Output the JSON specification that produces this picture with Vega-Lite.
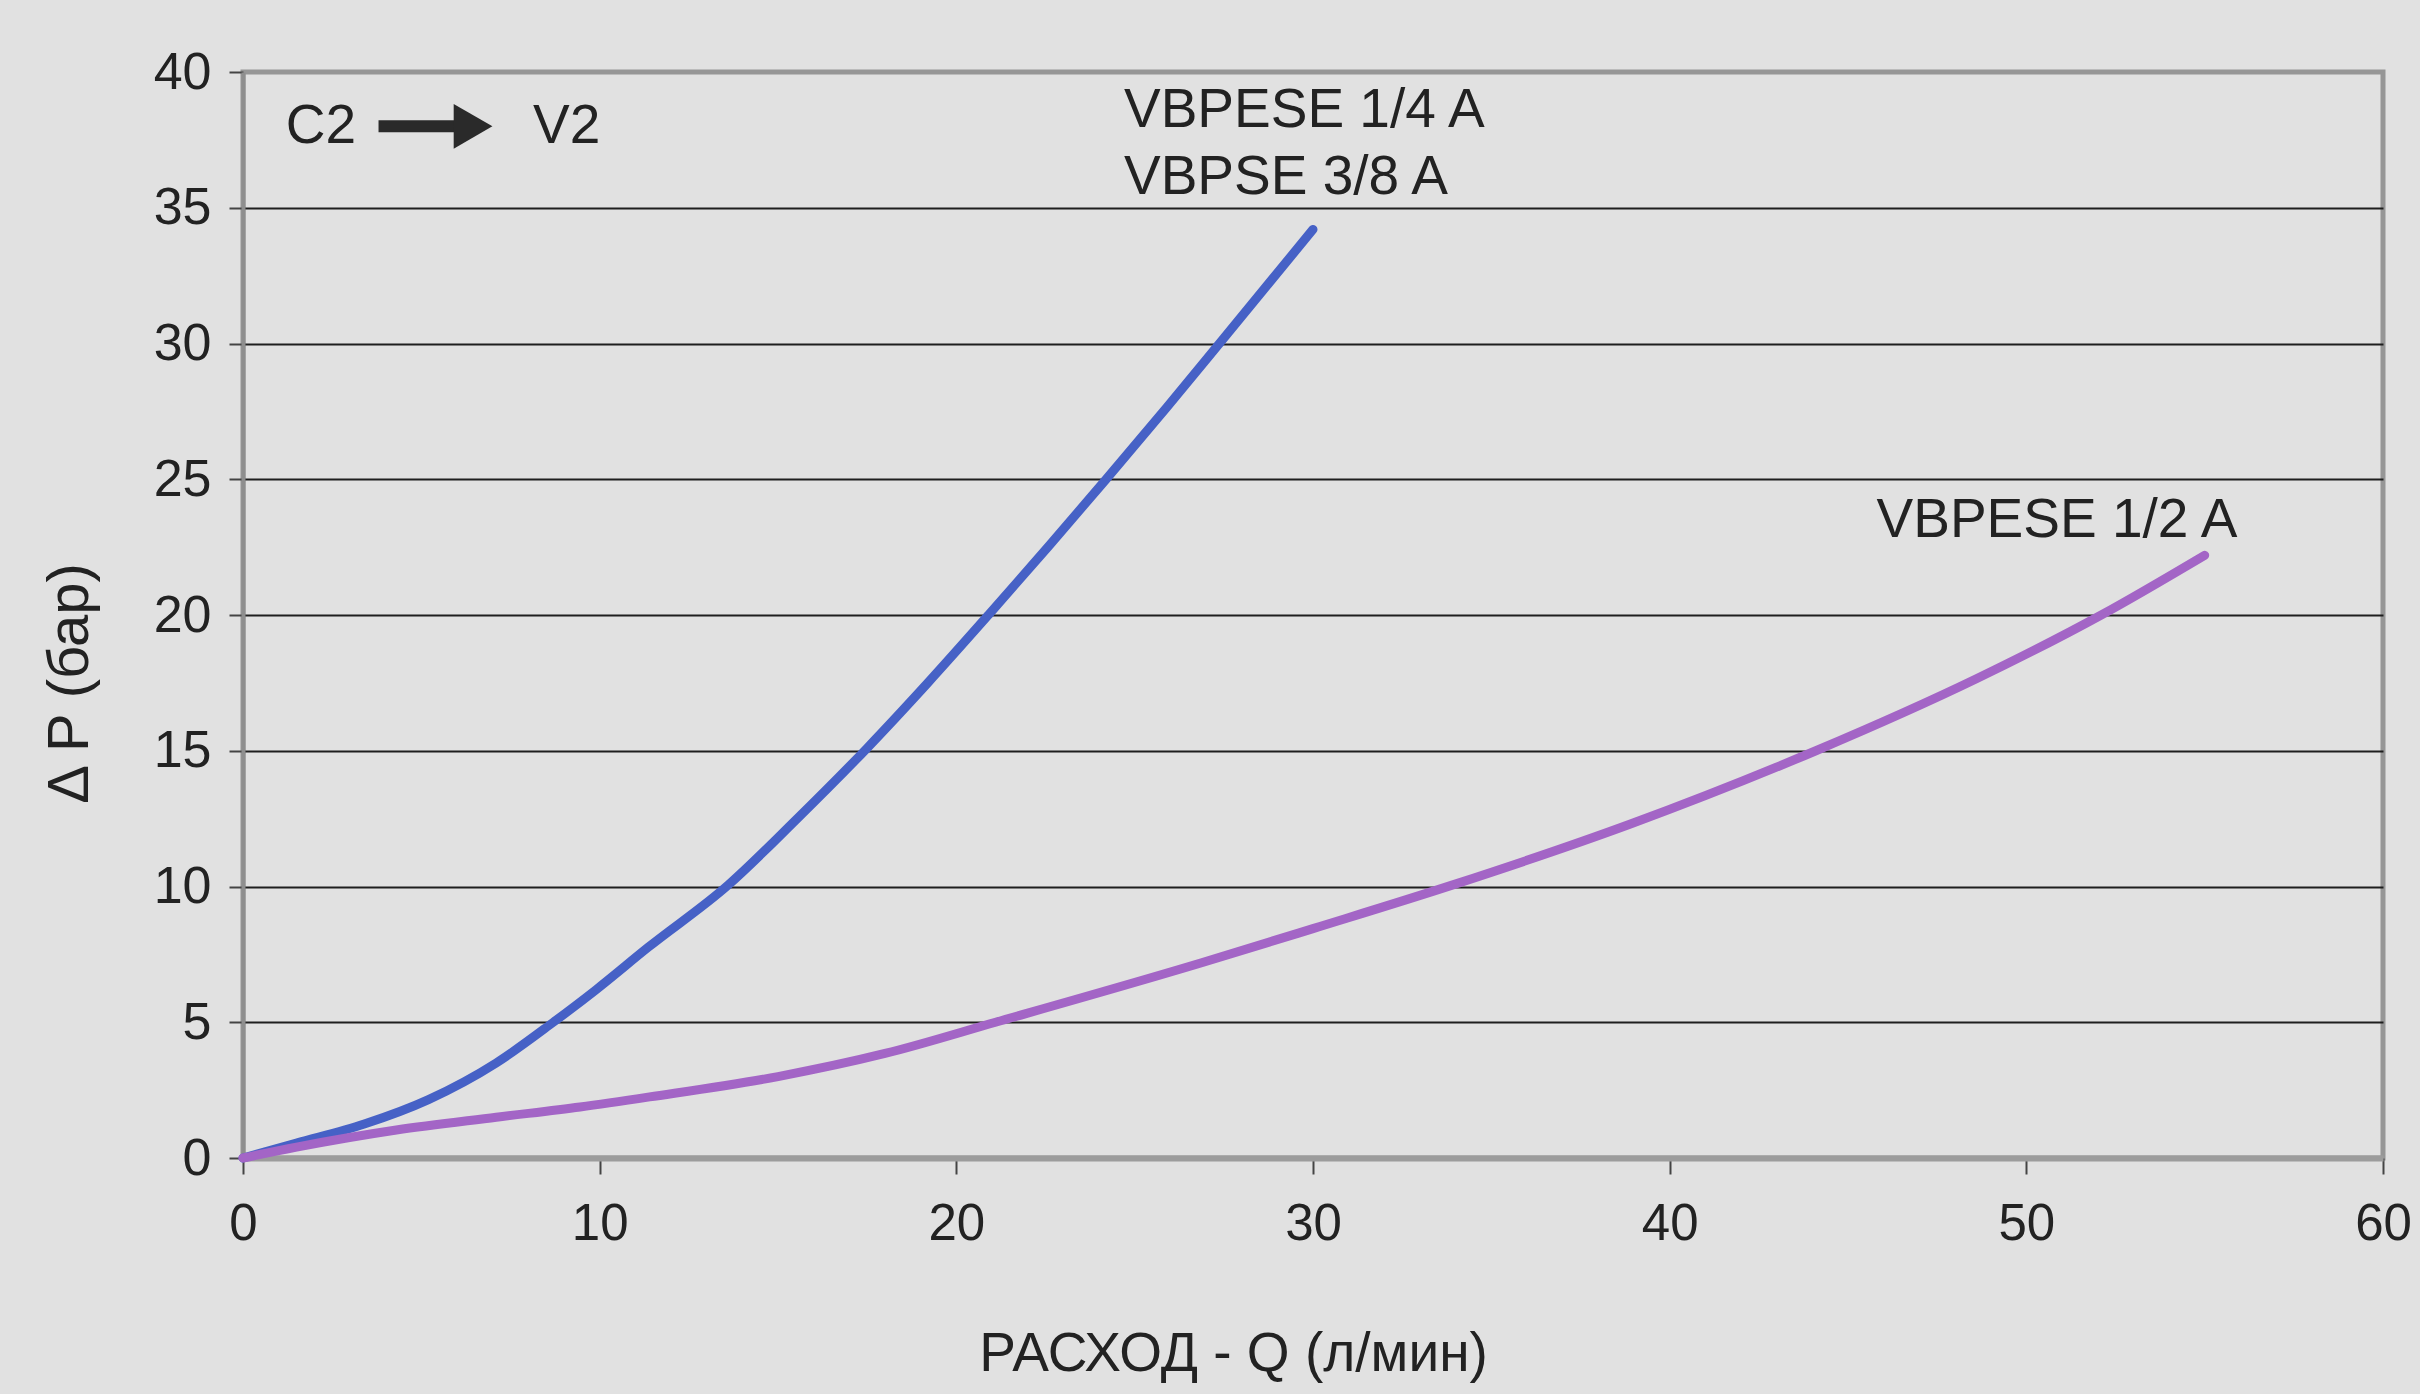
{
  "$schema": "https://vega.github.io/schema/vega-lite/v6.json",
  "width": 2140,
  "height": 1086,
  "autosize": {"type": "none"},
  "padding": {"left": 243, "top": 72, "right": 37, "bottom": 236},
  "background": "#e1e1e1",
  "config": {
    "font": "Liberation Sans",
    "view": {"stroke": "#969696", "strokeWidth": 5, "fill": "#e1e1e1"}
  },
  "datasets": {
    "curves": [
      {"series": "VBPESE 1/4 A, VBPSE 3/8 A", "q": 0, "dp": 0},
      {"series": "VBPESE 1/4 A, VBPSE 3/8 A", "q": 1.5, "dp": 0.55},
      {"series": "VBPESE 1/4 A, VBPSE 3/8 A", "q": 3.4, "dp": 1.25},
      {"series": "VBPESE 1/4 A, VBPSE 3/8 A", "q": 5.2, "dp": 2.15},
      {"series": "VBPESE 1/4 A, VBPSE 3/8 A", "q": 7.1, "dp": 3.5},
      {"series": "VBPESE 1/4 A, VBPSE 3/8 A", "q": 8.7, "dp": 5.0},
      {"series": "VBPESE 1/4 A, VBPSE 3/8 A", "q": 9.9, "dp": 6.2},
      {"series": "VBPESE 1/4 A, VBPSE 3/8 A", "q": 11.35, "dp": 7.75},
      {"series": "VBPESE 1/4 A, VBPSE 3/8 A", "q": 13.6, "dp": 10.05},
      {"series": "VBPESE 1/4 A, VBPSE 3/8 A", "q": 15.5, "dp": 12.45},
      {"series": "VBPESE 1/4 A, VBPSE 3/8 A", "q": 17.5, "dp": 15.1},
      {"series": "VBPESE 1/4 A, VBPSE 3/8 A", "q": 19.2, "dp": 17.5},
      {"series": "VBPESE 1/4 A, VBPSE 3/8 A", "q": 20.9, "dp": 20.0},
      {"series": "VBPESE 1/4 A, VBPSE 3/8 A", "q": 22.6, "dp": 22.55},
      {"series": "VBPESE 1/4 A, VBPSE 3/8 A", "q": 24.2, "dp": 25.0},
      {"series": "VBPESE 1/4 A, VBPSE 3/8 A", "q": 25.9, "dp": 27.65},
      {"series": "VBPESE 1/4 A, VBPSE 3/8 A", "q": 27.5, "dp": 30.2},
      {"series": "VBPESE 1/4 A, VBPSE 3/8 A", "q": 30.0, "dp": 34.2},
      {"series": "VBPESE 1/2 A", "q": 0, "dp": 0},
      {"series": "VBPESE 1/2 A", "q": 1.5, "dp": 0.4},
      {"series": "VBPESE 1/2 A", "q": 4.3, "dp": 1.03},
      {"series": "VBPESE 1/2 A", "q": 7.1, "dp": 1.5},
      {"series": "VBPESE 1/2 A", "q": 9.45, "dp": 1.88},
      {"series": "VBPESE 1/2 A", "q": 11.4, "dp": 2.25},
      {"series": "VBPESE 1/2 A", "q": 15.0, "dp": 3.0},
      {"series": "VBPESE 1/2 A", "q": 18.0, "dp": 3.85},
      {"series": "VBPESE 1/2 A", "q": 21.1, "dp": 5.0},
      {"series": "VBPESE 1/2 A", "q": 26.9, "dp": 7.2},
      {"series": "VBPESE 1/2 A", "q": 30.0, "dp": 8.45},
      {"series": "VBPESE 1/2 A", "q": 33.9, "dp": 10.05},
      {"series": "VBPESE 1/2 A", "q": 38.9, "dp": 12.3},
      {"series": "VBPESE 1/2 A", "q": 44.1, "dp": 15.0},
      {"series": "VBPESE 1/2 A", "q": 48.6, "dp": 17.65},
      {"series": "VBPESE 1/2 A", "q": 52.1, "dp": 20.0},
      {"series": "VBPESE 1/2 A", "q": 55.0, "dp": 22.2}
    ],
    "labels": [
      {"label": "VBPESE 1/4 A", "q": 24.7, "dp": 38.6},
      {"label": "VBPSE 3/8 A", "q": 24.7, "dp": 36.15},
      {"label": "VBPESE 1/2 A", "q": 45.8, "dp": 23.5},
      {"label": "C2", "q": 1.2, "dp": 38.0},
      {"label": "V2", "q": 8.13, "dp": 38.0}
    ],
    "arrow": [
      {"q": 3.8, "q2": 6.0, "dp": 38.0, "head": 6.45}
    ]
  },
  "layer": [
    {
      "data": {"name": "curves"},
      "mark": {"type": "line", "strokeWidth": 9, "interpolate": "monotone", "strokeCap": "round"},
      "encoding": {
        "x": {
          "field": "q", "type": "quantitative",
          "scale": {"domain": [0, 60], "nice": false},
          "axis": {
            "values": [0, 10, 20, 30, 40, 50, 60],
            "grid": false,
            "domainColor": "#9c9c9c", "domainWidth": 6,
            "tickColor": "#444", "tickWidth": 2, "tickSize": 16,
            "labelFont": "Liberation Sans", "labelFontSize": 51, "labelColor": "#222",
            "labelPadding": 25, "labelFlush": false,
            "title": "РАСХОД - Q (л/мин)",
            "titleFont": "Liberation Sans", "titleFontSize": 55, "titleFontWeight": "normal", "titleColor": "#222",
            "titleX": 990, "titleY": 212, "titleAlign": "center", "titleBaseline": "alphabetic"
          }
        },
        "y": {
          "field": "dp", "type": "quantitative",
          "scale": {"domain": [0, 40], "nice": false},
          "axis": {
            "values": [0, 5, 10, 15, 20, 25, 30, 35, 40],
            "grid": true,
            "gridColor": {"condition": {"test": "datum.value == 0 || datum.value == 40", "value": "transparent"}, "value": "#1e1e1e"},
            "gridWidth": 2,
            "domainColor": "#8e8e8e", "domainWidth": 4,
            "tickColor": "#444", "tickWidth": 2, "tickSize": 14,
            "labelFont": "Liberation Sans", "labelFontSize": 52, "labelColor": "#222",
            "labelPadding": 18, "labelFlush": false,
            "title": "Δ P (бар)",
            "titleFont": "Liberation Sans", "titleFontSize": 58, "titleFontWeight": "normal", "titleColor": "#222",
            "titleX": -173, "titleY": 611, "titleAlign": "center", "titleBaseline": "middle", "titleAngle": 270
          }
        },
        "color": {
          "field": "series", "type": "nominal",
          "scale": {"domain": ["VBPESE 1/4 A, VBPSE 3/8 A", "VBPESE 1/2 A"], "range": ["#4661c6", "#a365c6"]},
          "legend": null
        },
        "detail": {"field": "series"}
      }
    },
    {
      "data": {"name": "labels"},
      "mark": {"type": "text", "align": "left", "baseline": "middle", "fontSize": 55, "font": "Liberation Sans", "color": "#222"},
      "encoding": {
        "x": {"field": "q", "type": "quantitative"},
        "y": {"field": "dp", "type": "quantitative"},
        "text": {"field": "label"}
      }
    },
    {
      "data": {"name": "arrow"},
      "mark": {"type": "rule", "strokeWidth": 12, "color": "#2a2a2a"},
      "encoding": {
        "x": {"field": "q", "type": "quantitative"},
        "x2": {"field": "q2"},
        "y": {"field": "dp", "type": "quantitative"}
      }
    },
    {
      "data": {"name": "arrow"},
      "mark": {"type": "point", "shape": "triangle-right", "filled": true, "size": 2000, "color": "#2a2a2a", "opacity": 1},
      "encoding": {
        "x": {"field": "head", "type": "quantitative"},
        "y": {"field": "dp", "type": "quantitative"}
      }
    }
  ]
}
